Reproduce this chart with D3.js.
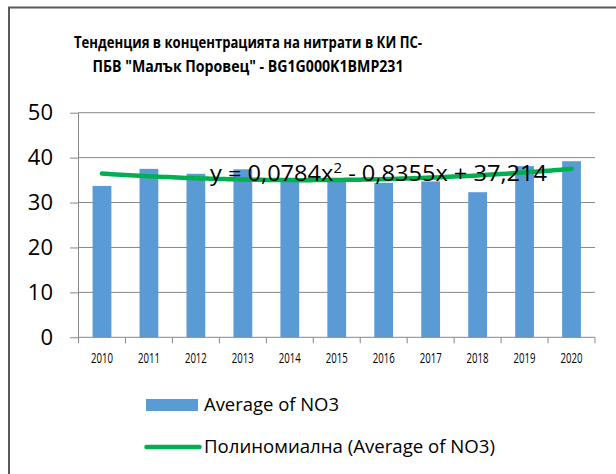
<!DOCTYPE html>
<html>
<head>
<meta charset="utf-8">
<script src="https://cdn.jsdelivr.net/npm/d3@7"></script>
<style>
  body { margin: 0; background: #fff; }
  svg { display: block; font-family: "Open Sans", "Liberation Sans", sans-serif; }
</style>
</head>
<body>
<div id="chart"></div>
<script>
// data
var years = ["2010", "2011", "2012", "2013", "2014", "2015", "2016", "2017", "2018", "2019", "2020"];
var no3Values = [33.7, 37.5, 36.4, 37.4, 35.2, 35.0, 34.4, 34.7, 32.3, 38.1, 39.2];
var yTicks = [0, 10, 20, 30, 40, 50];
// polynomial trend coefficients as printed: c0 + c1*x + c2*x^2
var trendCoef = [37.214, -0.8355, 0.0784];
var titleLines = ["Тенденция в концентрацията на нитрати в КИ ПС-", "ПБВ \"Малък Поровец\" - BG1G000K1BMP231"];
var legendLabels = ["Average of NO3", "Полиномиална (Average of NO3)"];

var width = 616, height = 474;
var plot = { left: 78.5, right: 595, top: 112.7, bottom: 337.3 };
var barColor = "#5B9BD5", trendColor = "#00B050", gridColor = "#878787";

var svg = d3.select("#chart").append("svg")
  .attr("width", width).attr("height", height);

// chart border (only top and left are visible in the frame)
svg.append("path")
  .attr("d", "M9,475 L9,7.5 L620,7.5")
  .attr("fill", "none").attr("stroke", "#595959").attr("stroke-width", 2);

// title
svg.selectAll(".title")
  .data(titleLines)
  .enter().append("text")
  .attr("class", "title")
  .attr("x", 248)
  .attr("y", function (d, i) { return 47.5 + i * 24; })
  .attr("text-anchor", "middle")
  .attr("font-size", 16.5)
  .attr("font-weight", "bold")
  .attr("textLength", function (d, i) { return i === 0 ? 348 : 311; })
  .attr("lengthAdjust", "spacingAndGlyphs")
  .text(function (d) { return d; });

var x = d3.scaleBand().domain(years)
  .range([plot.left, plot.right])
  .paddingInner(0.6).paddingOuter(0.3);
var y = d3.scaleLinear().domain([0, 50]).range([plot.bottom, plot.top]);
// continuous position for the trendline: x = 1 .. 11
var xt = d3.scaleLinear().domain([0.5, years.length + 0.5]).range([plot.left, plot.right]);

// gridlines
svg.append("g")
  .selectAll("line")
  .data(yTicks.filter(function (d) { return d > 0; }))
  .enter().append("line")
  .attr("x1", plot.left).attr("x2", plot.right)
  .attr("y1", function (d) { return y(d); })
  .attr("y2", function (d) { return y(d); })
  .attr("stroke", gridColor).attr("stroke-width", 1);

// y axis
var yAxis = svg.append("g")
  .attr("transform", "translate(" + plot.left + ",0)")
  .call(d3.axisLeft(y).tickValues(yTicks).tickSize(8.5).tickPadding(17));
yAxis.select(".domain").attr("stroke", gridColor).attr("d", "M-0," + plot.bottom + "V" + plot.top);
yAxis.selectAll(".tick line").attr("stroke", gridColor);
yAxis.selectAll(".tick text")
  .attr("font-size", 22).attr("fill", "#000")
  .attr("font-family", "\"Open Sans\", sans-serif");

// bars
svg.append("g")
  .selectAll("rect")
  .data(no3Values)
  .enter().append("rect")
  .attr("x", function (d, i) { return x(years[i]); })
  .attr("width", x.bandwidth())
  .attr("y", function (d) { return y(d); })
  .attr("height", function (d) { return y(0) - y(d); })
  .attr("fill", barColor);

// x axis with ticks on category boundaries
var xg = svg.append("g").attr("transform", "translate(0," + plot.bottom + ")");
xg.append("line")
  .attr("x1", plot.left).attr("x2", plot.right)
  .attr("stroke", gridColor);
xg.selectAll(".bound")
  .data(d3.range(years.length + 1))
  .enter().append("line")
  .attr("class", "bound")
  .attr("x1", function (d) { return xt(d + 0.5); })
  .attr("x2", function (d) { return xt(d + 0.5); })
  .attr("y1", 0).attr("y2", 6)
  .attr("stroke", gridColor);
xg.selectAll("text")
  .data(years)
  .enter().append("text")
  .attr("x", function (d) { return x(d) + x.bandwidth() / 2; })
  .attr("y", 26)
  .attr("text-anchor", "middle")
  .attr("font-size", 14)
  .attr("textLength", 22)
  .attr("lengthAdjust", "spacingAndGlyphs")
  .text(function (d) { return d; });

// polynomial trendline
function trend(t) { return trendCoef[0] + trendCoef[1] * t + trendCoef[2] * t * t; }
var trendPts = d3.range(1, years.length + 0.001, 0.1);
svg.append("path")
  .datum(trendPts)
  .attr("fill", "none")
  .attr("stroke", trendColor)
  .attr("stroke-width", 4.5)
  .attr("stroke-linecap", "round")
  .attr("d", d3.line()
    .x(function (t) { return xt(t); })
    .y(function (t) { return y(trend(t)); })
    .curve(d3.curveMonotoneX));

// equation label
var eq = svg.append("text")
  .attr("x", 210).attr("y", 180.5)
  .attr("font-size", 22)
  .attr("textLength", 337)
  .attr("lengthAdjust", "spacingAndGlyphs");
eq.append("tspan").text("y = " + String(trendCoef[2]).replace(".", ",") + "x");
eq.append("tspan").attr("dy", -8).attr("font-size", 14).text("2");
eq.append("tspan").attr("dy", 8).text(" - " + String(-trendCoef[1]).replace(".", ",") + "x + " + String(trendCoef[0]).replace(".", ","));

// legend
var lg = svg.append("g");
lg.append("rect")
  .attr("x", 146).attr("y", 399).attr("width", 52).attr("height", 12)
  .attr("fill", barColor);
lg.append("line")
  .attr("x1", 146.5).attr("x2", 199.5).attr("y1", 447).attr("y2", 447)
  .attr("stroke", trendColor).attr("stroke-width", 4.5).attr("stroke-linecap", "round");
lg.selectAll("text")
  .data(legendLabels)
  .enter().append("text")
  .attr("x", 204)
  .attr("y", function (d, i) { return 411 + i * 42; })
  .attr("font-size", 18)
  .attr("textLength", function (d, i) { return i === 0 ? 135 : 291; })
  .attr("lengthAdjust", "spacingAndGlyphs")
  .text(function (d) { return d; });
</script>
</body>
</html>
